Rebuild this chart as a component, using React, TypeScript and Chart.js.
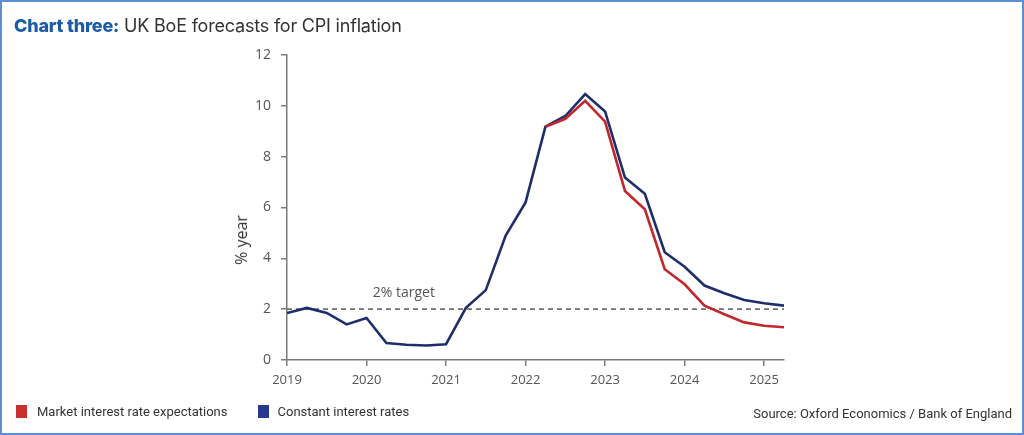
import React, { useEffect, useRef } from "react";
import { Chart, registerables } from "chart.js";
Chart.register(...registerables);

const quarters = [
  "2019Q1", "2019Q2", "2019Q3", "2019Q4",
  "2020Q1", "2020Q2", "2020Q3", "2020Q4",
  "2021Q1", "2021Q2", "2021Q3", "2021Q4",
  "2022Q1", "2022Q2", "2022Q3", "2022Q4",
  "2023Q1", "2023Q2", "2023Q3", "2023Q4",
  "2024Q1", "2024Q2", "2024Q3", "2024Q4",
  "2025Q1", "2025Q2",
];
const constantRates = [
  1.85, 2.05, 1.85, 1.4,
  1.65, 0.67, 0.6, 0.57,
  0.62, 2.05, 2.75, 4.9,
  6.2, 9.18, 9.6, 10.46,
  9.78, 7.18, 6.54, 4.24,
  3.67, 2.93, 2.63, 2.36,
  2.23, 2.14,
];
const marketRates = [
  null, null, null, null,
  null, null, null, null,
  null, null, null, null,
  null, 9.18, 9.49, 10.2,
  9.38, 6.65, 5.93, 3.57,
  2.98, 2.14, 1.8, 1.48,
  1.35, 1.29,
];
const targetValue = 2;
const targetLabel = "2% target";
const yearTicks = [2019, 2020, 2021, 2022, 2023, 2024, 2025];
const yTicks = [0, 2, 4, 6, 8, 10, 12];

const toX = (q: string) => Number(q.slice(0, 4)) + (Number(q.slice(5)) - 1) / 4;

const BLUE = "#1f2e6b";
const RED = "#c0282d";
const AXIS = "#7a7a7a";
const TICKTXT = "#555555";

export default function App() {
  const ref = useRef<HTMLCanvasElement | null>(null);
  useEffect(() => {
    document.body.style.margin = "0";
    const ctx = ref.current!;
    const targetPlugin = {
      id: "targetLabel",
      afterDatasetsDraw(chart: any) {
        const { ctx: c, scales } = chart;
        const x = scales.x.getPixelForValue(2020.47);
        const y = scales.y.getPixelForValue(targetValue);
        c.save();
        c.font = "14px 'Open Sans'";
        c.fillStyle = TICKTXT;
        c.textAlign = "center";
        c.textBaseline = "bottom";
        c.fillText(targetLabel, x, y - 9);
        c.restore();
      },
    };
    const chart = new Chart(ctx, {
      type: "line",
      data: {
        datasets: [
          {
            label: "target",
            data: quarters.map((q) => ({ x: toX(q), y: targetValue })),
            borderColor: "#707070",
            borderWidth: 1.6,
            borderDash: [5, 4],
            pointRadius: 0,
            order: 3,
          },
          {
            label: "Constant interest rates",
            data: quarters.map((q, i) => ({ x: toX(q), y: constantRates[i] })),
            borderColor: BLUE,
            borderWidth: 2.6,
            pointRadius: 0,
            tension: 0,
            order: 2,
          },
          {
            label: "Market interest rate expectations",
            data: quarters.map((q, i) => ({ x: toX(q), y: marketRates[i] as any })),
            borderColor: RED,
            borderWidth: 2.6,
            pointRadius: 0,
            tension: 0,
            spanGaps: false,
            order: 1,
          },
        ],
      },
      options: {
        animation: false,
        responsive: false,
        devicePixelRatio: 1,
        layout: { padding: { left: 0, right: 240, top: 55, bottom: 0 } },
        plugins: { legend: { display: false }, tooltip: { enabled: false }, title: { display: false } },
        scales: {
          x: {
            type: "linear",
            min: 2019,
            max: 2025.25,
            afterBuildTicks: (s: any) => {
              s.ticks = yearTicks.map((v) => ({ value: v }));
            },
            afterFit: (s: any) => {
              s.height = 75;
            },
            ticks: {
              color: TICKTXT,
              font: { family: "'Open Sans'", size: 13 },
              padding: 6,
              maxRotation: 0,
              callback: (v: any) => String(v),
            },
            grid: { display: true, drawOnChartArea: false, drawTicks: true, tickLength: 6, color: AXIS, lineWidth: 1.5 },
            border: { display: true, color: AXIS, width: 1.5 },
          },
          y: {
            type: "linear",
            min: 0,
            max: 12,
            afterBuildTicks: (s: any) => {
              s.ticks = yTicks.map((v) => ({ value: v }));
            },
            afterFit: (s: any) => {
              s.width = 287;
            },
            ticks: {
              color: TICKTXT,
              font: { family: "'Open Sans'", size: 14 },
              padding: 10,
            },
            grid: { display: true, drawOnChartArea: false, drawTicks: true, tickLength: 6, color: AXIS, lineWidth: 1.5 },
            border: { display: true, color: AXIS, width: 1.5 },
          },
        },
      },
      plugins: [targetPlugin],
    } as any);
    return () => chart.destroy();
  }, []);

  return (
    <div
      style={{
        position: "fixed",
        left: 0,
        top: 0,
        width: 1024,
        height: 435,
        boxSizing: "border-box",
        border: "2px solid #5a8fd3",
        background: "#fff",
        overflow: "hidden",
      }}
    >
      <canvas ref={ref} width={1024} height={435} style={{ position: "absolute", left: -2, top: -2 }} />
      <div
        style={{
          position: "absolute",
          left: 12,
          top: 13,
          fontFamily: "Inter, 'Open Sans', sans-serif",
          fontSize: 18,
          color: "#333",
          whiteSpace: "nowrap",
          letterSpacing: -0.2,
        }}
      >
        <span style={{ color: "#1c5ba8", fontWeight: 800 }}>Chart three:</span> UK BoE forecasts for CPI inflation
      </div>
      <div
        style={{
          position: "absolute",
          left: 239,
          top: 238,
          transform: "translate(-50%, -50%) rotate(-90deg)",
          fontFamily: "'Open Sans', sans-serif",
          fontSize: 16,
          color: "#333",
          whiteSpace: "nowrap",
        }}
      >
        % year
      </div>
      <div
        style={{
          position: "absolute",
          left: 14,
          top: 402,
          display: "flex",
          alignItems: "center",
          fontFamily: "Roboto, sans-serif",
          fontSize: 13,
          color: "#333",
          whiteSpace: "nowrap",
        }}
      >
        <span style={{ display: "inline-block", width: 11, height: 13, background: "#c8302e", marginRight: 10 }} />
        <span style={{ marginRight: 30 }}>Market interest rate expectations</span>
        <span style={{ display: "inline-block", width: 11, height: 13, background: "#283a8e", marginRight: 9 }} />
        <span>Constant interest rates</span>
      </div>
      <div
        style={{
          position: "absolute",
          right: 10,
          top: 404,
          fontFamily: "Roboto, sans-serif",
          fontSize: 13,
          color: "#333",
          whiteSpace: "nowrap",
        }}
      >
        Source: Oxford Economics / Bank of England
      </div>
    </div>
  );
}
